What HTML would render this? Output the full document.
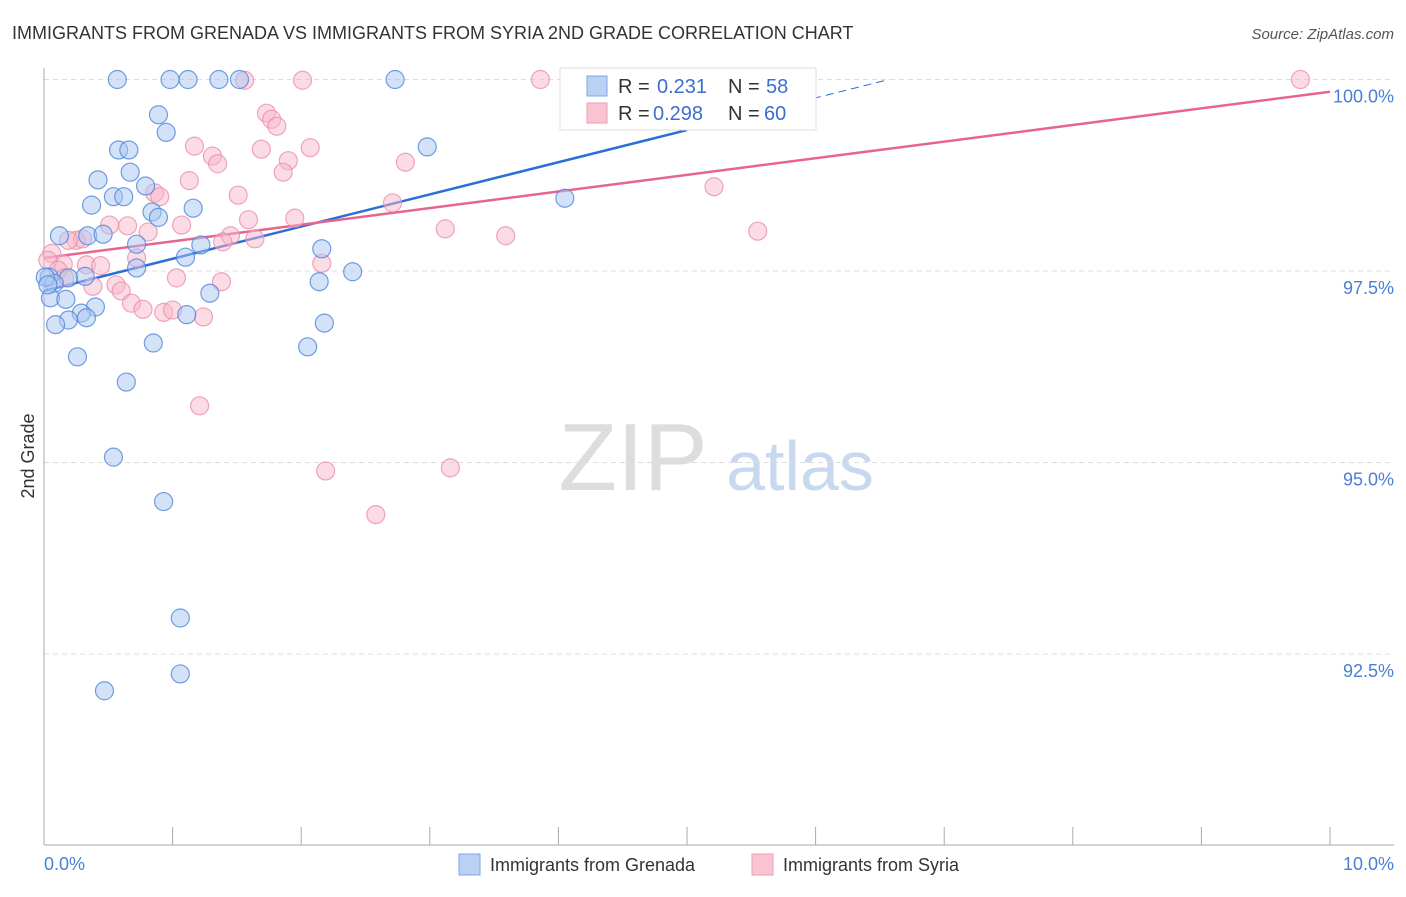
<!DOCTYPE html>
<html><head><meta charset="utf-8">
<style>
body{margin:0;background:#fff;font-family:"Liberation Sans",sans-serif;}
svg text{font-family:"Liberation Sans",sans-serif;}
</style></head>
<body>
<svg id="chart" width="1406" height="892" viewBox="0 0 1406 892" xmlns="http://www.w3.org/2000/svg">
<text x="12" y="39" font-size="18" fill="#333">IMMIGRANTS FROM GRENADA VS IMMIGRANTS FROM SYRIA 2ND GRADE CORRELATION CHART</text>
<text x="1394" y="39" font-size="15" fill="#555" text-anchor="end" font-style="italic">Source: ZipAtlas.com</text>
<g>
<text x="633" y="490" font-size="96" fill="#ddd" text-anchor="middle" font-family="Liberation Serif, serif">ZIP</text>
<text x="800" y="490" font-size="70" fill="#c8d8ef" text-anchor="middle">atlas</text>
</g>
<g id="grid"></g>
<g id="axes"></g>
<g id="lines"></g>
<g id="points"></g>
<text transform="translate(34,456) rotate(-90)" font-size="18" fill="#333" text-anchor="middle">2nd Grade</text>
<text x="44" y="870" font-size="18" fill="#4a7fd4">0.0%</text>
<text x="1394" y="870" font-size="18" fill="#4a7fd4" text-anchor="end">10.0%</text>
<g>
<rect x="560" y="68" width="256" height="62" fill="#fff" stroke="#ddd"/>
<rect x="587" y="76" width="20" height="20" fill="#b9d1f5" stroke="#7ea7e6"/>
<rect x="587" y="103" width="20" height="20" fill="#f9c4d2" stroke="#ee9cb5"/>
<text x="618" y="93" font-size="20" fill="#333">R = </text><text x="657" y="93" font-size="20" fill="#3a6fd0">0.231</text>
<text x="728" y="93" font-size="20" fill="#333">N = </text><text x="766" y="93" font-size="20" fill="#3a6fd0">58</text>
<text x="618" y="120" font-size="20" fill="#333">R = </text><text x="653" y="120" font-size="20" fill="#3a6fd0">0.298</text>
<text x="728" y="120" font-size="20" fill="#333">N = </text><text x="764" y="120" font-size="20" fill="#3a6fd0">60</text>
</g>
<g>
<rect x="459" y="854" width="21" height="21" fill="#b9d1f5" stroke="#7ea7e6"/>
<text x="490" y="871" font-size="18" fill="#333">Immigrants from Grenada</text>
<rect x="752" y="854" width="21" height="21" fill="#f9c4d2" stroke="#ee9cb5"/>
<text x="783" y="871" font-size="18" fill="#333">Immigrants from Syria</text>
</g>
</svg>
<script>
const yTicks=[100,97.5,95,92.5];
const yTickLabels=["100.0%","97.5%","95.0%","92.5%"];
const xTicks=[0,1,2,3,4,5,6,7,8,9,10];
const grenadaX=[0.57,0.98,1.12,1.36,1.52,2.73,0.89,0.95,0.58,0.66,0.42,0.67,0.79,0.37,0.54,0.62,0.84,0.89,1.16,0.12,0.34,0.46,0.72,1.22,1.10,2.16,0.72,0.32,0.19,0.04,0.08,0.05,0.17,0.40,0.29,0.33,0.19,0.09,1.11,1.29,2.14,2.40,2.18,0.85,2.05,0.26,0.64,0.54,0.93,1.06,1.06,0.47,4.05,2.98,4.74,0.01,0.03];
const grenadaY=[100,100,100,100,100,100,99.54,99.31,99.08,99.08,98.69,98.79,98.61,98.36,98.47,98.47,98.27,98.20,98.32,97.96,97.96,97.98,97.85,97.84,97.68,97.79,97.54,97.43,97.41,97.42,97.34,97.15,97.13,97.03,96.95,96.89,96.86,96.80,96.93,97.21,97.36,97.49,96.82,96.56,96.51,96.38,96.05,95.07,94.49,92.97,92.24,92.02,98.45,99.12,99.76,97.42,97.32];
const syriaX=[1.56,2.01,1.73,1.77,1.81,1.17,1.31,1.35,1.69,1.90,1.86,2.07,1.13,1.51,0.86,0.90,2.81,2.71,3.12,1.59,1.95,1.07,0.51,0.65,0.81,1.45,1.39,1.64,0.25,0.30,0.19,0.06,0.72,2.16,0.15,0.33,0.44,1.03,1.38,0.56,0.60,0.38,0.68,0.77,0.93,1.00,1.24,3.86,5.82,9.77,3.59,5.55,5.21,1.21,2.19,3.16,2.58,0.03,0.11,0.16];
const syriaY=[99.99,99.99,99.56,99.48,99.39,99.13,99.0,98.9,99.09,98.94,98.79,99.11,98.68,98.49,98.52,98.47,98.92,98.39,98.05,98.17,98.19,98.1,98.1,98.09,98.01,97.96,97.88,97.92,97.9,97.92,97.9,97.73,97.67,97.6,97.59,97.58,97.57,97.41,97.36,97.32,97.24,97.3,97.08,97.0,96.96,96.99,96.9,100,100,100,97.96,98.02,98.6,95.74,94.89,94.93,94.32,97.64,97.51,97.41];
const grenadaTrend=[97.24,0.42];
const syriaTrend=[97.67,0.217];
const NS="http://www.w3.org/2000/svg";
const sx=v=>44+v*128.6;
const sy=v=>79.5+(100-v)*76.6;
function mk(tag,attrs,parent){const e=document.createElementNS(NS,tag);for(const k in attrs)e.setAttribute(k,attrs[k]);document.getElementById(parent).appendChild(e);return e;}
yTicks.forEach((t,i)=>{
 const g=mk('line',{x1:44,x2:1394,y1:sy(t),y2:sy(t),stroke:'#ddd','stroke-dasharray':'5,4'},'grid');
 
 
 const l=mk('text',{x:1394,y:sy(t)+23,'font-size':18,fill:'#4a7fd4','text-anchor':'end'},'grid');
 l.textContent=yTickLabels[i];
 
 
});
const ax=mk('line',{x1:44,x2:44,y1:68,y2:845,stroke:'#aaa'},'axes');


const bx=mk('line',{x1:44,x2:1394,y1:845,y2:845,stroke:'#aaa'},'axes');


xTicks.forEach(t=>{
 const k=mk('line',{x1:sx(t),x2:sx(t),y1:827,y2:845,stroke:'#aaa'},'axes');
 
 
});
function drawPts(X,Y,fill,stroke,name){
 X.forEach((x,i)=>{
  const c=mk('circle',{cx:sx(x),cy:sy(Y[i]),r:9,fill:fill,'fill-opacity':0.5,stroke:stroke,'stroke-width':1.2,'stroke-opacity':0.8},'points');
  
  
 });
}
drawPts(syriaX,syriaY,'#f7b8ca','#ec8fad','syria-point');
drawPts(grenadaX,grenadaY,'#a9c6f2','#4f86da','grenada-point');
const gEnd=(100-grenadaTrend[0])/grenadaTrend[1];
const g1=mk('line',{x1:sx(0),y1:sy(grenadaTrend[0]),x2:sx(5),y2:sy(grenadaTrend[0]+5*grenadaTrend[1]),stroke:'#2a6fd6','stroke-width':2.5},'lines');


const g2=mk('line',{x1:sx(5),y1:sy(grenadaTrend[0]+5*grenadaTrend[1]),x2:sx(gEnd),y2:sy(100),stroke:'#2a6fd6','stroke-width':1,'stroke-dasharray':'8,5'},'lines');


const s1=mk('line',{x1:sx(0),y1:sy(syriaTrend[0]),x2:sx(10),y2:sy(syriaTrend[0]+10*syriaTrend[1]),stroke:'#e8648f','stroke-width':2.5},'lines');


</script>
</body></html>
